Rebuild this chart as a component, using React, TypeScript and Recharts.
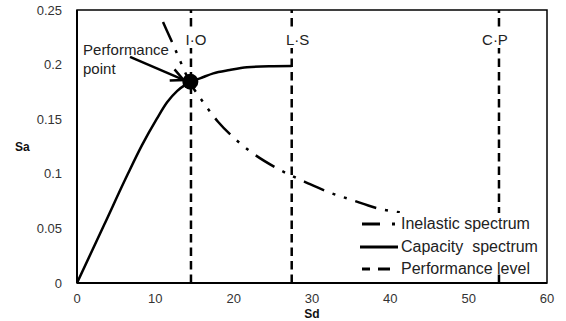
import React from 'react';
import {
  ComposedChart,
  Line,
  Scatter,
  XAxis,
  YAxis,
  ReferenceLine,
  ReferenceArea,
  ReferenceDot,
} from 'recharts';

// ---- data ----
const capacitySd = [0, 3.5, 6.5, 8.3, 10.2, 11.5, 12.8, 14.05, 14.47, 15.7, 17.4, 19.5, 21.7, 24.5, 27.4];
const capacitySa = [0, 0.0538, 0.1, 0.1262, 0.1505, 0.1655, 0.176, 0.1825, 0.1844, 0.1874, 0.192, 0.195, 0.1975, 0.1985, 0.1987];

const inelasticSd = [10.98, 12.13, 14.55, 16.12, 18.0, 19.92, 22.18, 25.7, 29.5, 32.3, 34.85, 38.9, 41.6];
const inelasticSa = [0.239, 0.2207, 0.1822, 0.1655, 0.1477, 0.1337, 0.1202, 0.1044, 0.0913, 0.0827, 0.0766, 0.0675, 0.0644];

const performancePointSd = [14.47];
const performancePointSa = [0.1844];

const levelNames = ['I·O', 'L·S', 'C·P'];
const levelSd = [14.55, 27.41, 53.87];

const xTicks = [0, 10, 20, 30, 40, 50, 60];
const yTicks = [0, 0.05, 0.1, 0.15, 0.2, 0.25];

const legendLabels = ['Inelastic spectrum', 'Capacity  spectrum', 'Performance level'];

const annotationLines = ['Performance', 'point'];
const annotationAt = { sd: 0.77, sa: 0.2088 };
const arrowFrom = { sd: 6.77, sa: 0.207 };
const arrowTo = { sd: 13.62, sa: 0.1859 };

// ---- style (not data) ----
const FONT = '"Liberation Sans", Arial, sans-serif';
const levelLabelDx = [5, 6, -4];
const INELASTIC_DASH = '22 9 3 9 3 9';
const LEVEL_DASH = '8.5 5';

const zip = (xs: number[], ys: number[]) => xs.map((x, i) => ({ sd: x, sa: ys[i] }));
const capacityData = zip(capacitySd, capacitySa);
const inelasticData = zip(inelasticSd, inelasticSa);
const pointData = zip(performancePointSd, performancePointSa);

const fmtY = (v: number) => String(v);

function LevelLabel(props: any) {
  const { viewBox, text, dx } = props;
  const x = viewBox.x + (dx || 0);
  const y = 45;
  const w = text.length * 7 + 4;
  return (
    <g>
      <rect x={x - w / 2} y={29} width={w} height={19} fill="#fff" />
      <text x={x} y={y} textAnchor="middle" fontFamily={FONT} fontSize={15} fill="#222">
        {text}
      </text>
    </g>
  );
}

function ArrowShape(props: any) {
  const { x1, y1, x2, y2 } = props;
  if ([x1, y1, x2, y2].some((v) => v == null || isNaN(v))) return null;
  const ang = Math.atan2(y2 - y1, x2 - x1);
  const len = 14;
  const spread = 0.45;
  const ax = x2 - len * Math.cos(ang - spread);
  const ay = y2 - len * Math.sin(ang - spread);
  const bx = x2 - len * Math.cos(ang + spread);
  const by = y2 - len * Math.sin(ang + spread);
  return (
    <g>
      <line x1={x1} y1={y1} x2={x2 - 2 * Math.cos(ang)} y2={y2 - 2 * Math.sin(ang)} stroke="#000" strokeWidth={2.5} />
      <polyline points={`${ax},${ay} ${x2},${y2} ${bx},${by}`} fill="none" stroke="#000" strokeWidth={2.5} />
    </g>
  );
}

function AnnotationText(props: any) {
  const { cx, cy } = props;
  if (cx == null || cy == null) return null;
  return (
    <text fontFamily={FONT} fontSize={15} fill="#222">
      {annotationLines.map((t, i) => (
        <tspan key={i} x={cx} y={cy + i * 19}>
          {t}
        </tspan>
      ))}
    </text>
  );
}

function PointShape(props: any) {
  const { cx, cy } = props;
  return <circle cx={cx} cy={cy} r={8} fill="#000" />;
}

function LegendSample({ kind }: { kind: number }) {
  return (
    <svg width={40} height={10} style={{ display: 'block' }}>
      {kind === 0 && (
        <g stroke="#000" strokeWidth={3}>
          <line x1={4} y1={5} x2={22} y2={5} />
          <line x1={34} y1={5} x2={37} y2={5} />
        </g>
      )}
      {kind === 1 && <line x1={2} y1={5} x2={40} y2={5} stroke="#000" strokeWidth={3} />}
      {kind === 2 && (
        <g stroke="#000" strokeWidth={3}>
          <line x1={4} y1={5} x2={12} y2={5} />
          <line x1={20} y1={5} x2={32} y2={5} />
        </g>
      )}
    </svg>
  );
}

export default function App() {
  return (
    <div style={{ position: 'absolute', left: 0, top: 0, width: 566, height: 321, background: '#fff' }}>
      <ComposedChart
        width={566}
        height={321}
        margin={{ top: 10, right: 19, bottom: 0, left: 0 }}
      >
        <XAxis
          dataKey="sd"
          type="number"
          domain={[0, 60]}
          ticks={xTicks}
          allowDataOverflow
          tickLine={false}
          tickSize={0}
          tickMargin={11}
          height={38}
          axisLine={{ stroke: '#000', strokeWidth: 2 }}
          tick={{ fontFamily: FONT, fontSize: 13, fill: '#333' }}
          label={{ value: 'Sd', position: 'insideBottom', offset: 3, fontFamily: FONT, fontSize: 12, fontWeight: 'bold', fill: '#111' }}
        />
        <YAxis
          type="number"
          domain={[0, 0.25]}
          ticks={yTicks}
          allowDataOverflow
          tickFormatter={fmtY}
          tickLine={false}
          tickSize={0}
          tickMargin={15}
          width={77}
          axisLine={{ stroke: '#000', strokeWidth: 2 }}
          tick={{ fontFamily: FONT, fontSize: 13, fill: '#333' }}
          label={{ value: 'Sa', position: 'insideLeft', offset: 15, fontFamily: FONT, fontSize: 12, fontWeight: 'bold', fill: '#111' }}
        />
        <ReferenceArea x1={0} x2={60} y1={0} y2={0.25} fill="none" stroke="#000" strokeWidth={1.5} />
        {levelSd.map((sd, i) => (
          <ReferenceLine
            key={levelNames[i]}
            x={sd}
            stroke="#000"
            strokeWidth={2.5}
            strokeDasharray={LEVEL_DASH}
            label={<LevelLabel text={levelNames[i]} dx={levelLabelDx[i]} />}
          />
        ))}
        <Line
          data={inelasticData}
          dataKey="sa"
          type="monotone"
          stroke="#000"
          strokeWidth={2.5}
          strokeDasharray={INELASTIC_DASH}
          dot={false}
          activeDot={false}
          isAnimationActive={false}
        />
        <Line
          data={capacityData}
          dataKey="sa"
          type="monotone"
          stroke="#000"
          strokeWidth={2.5}
          dot={false}
          activeDot={false}
          isAnimationActive={false}
        />
        <Scatter data={pointData} dataKey="sa" shape={<PointShape />} isAnimationActive={false} />
        <ReferenceLine
          segment={[
            { x: arrowFrom.sd, y: arrowFrom.sa },
            { x: arrowTo.sd, y: arrowTo.sa },
          ]}
          shape={<ArrowShape />}
        />
        <ReferenceDot x={annotationAt.sd} y={annotationAt.sa} r={0} shape={<AnnotationText />} />
      </ComposedChart>
      <div
        style={{
          position: 'absolute',
          left: 355,
          top: 213,
          width: 183,
          height: 60,
          background: '#fff',
          fontFamily: FONT,
          fontSize: 16,
          color: '#222',
        }}
      >
        {legendLabels.map((t, i) => (
          <div key={t} style={{ display: 'flex', alignItems: 'center', height: 22.5, lineHeight: '22px', whiteSpace: 'pre' }}>
            <div style={{ width: 43, marginLeft: 3 }}>
              <LegendSample kind={i} />
            </div>
            <span>{t}</span>
          </div>
        ))}
      </div>
    </div>
  );
}
